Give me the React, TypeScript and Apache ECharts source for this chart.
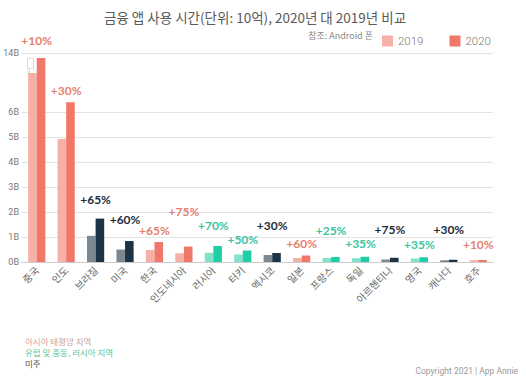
import React, { useEffect, useRef } from 'react';
import * as echarts from 'echarts';

const countries = ['중국', '인도', '브라질', '미국', '한국', '인도네시아', '러시아', '터키', '멕시코', '일본', '프랑스', '독일', '아르헨티나', '영국', '캐나다', '호주'];
const regions = ['apac', 'apac', 'am', 'am', 'apac', 'apac', 'eu', 'eu', 'am', 'apac', 'eu', 'eu', 'am', 'eu', 'am', 'apac'];
const hours2019 = [13.2, 4.93, 1.05, 0.5, 0.48, 0.35, 0.37, 0.3, 0.28, 0.16, 0.16, 0.15, 0.1, 0.14, 0.07, 0.07];
const hours2020 = [13.8, 6.4, 1.74, 0.84, 0.8, 0.62, 0.64, 0.46, 0.36, 0.26, 0.2, 0.21, 0.17, 0.19, 0.09, 0.08];
const growthLabels = ['+10%', '+30%', '+65%', '+60%', '+65%', '+75%', '+70%', '+50%', '+30%', '+60%', '+25%', '+35%', '+75%', '+35%', '+30%', '+10%'];
const regionNotes = ['아시아 태평양 지역', '유럽 및 중동, 러시아 지역', '미주'];

// label lift (px from bar top to label centre)
const labelLift = [17, 12, 19, 22, 12, 35, 21, 11, 28, 12, 27, 13, 28, 13, 30, 16];

const colors: Record<string, { c19: string; c20: string; label: string; note: string }> = {
  apac: { c19: '#F6B0A5', c20: '#F07869', label: '#E5806F', note: '#CFA29C' },
  eu: { c19: '#7FE2CA', c20: '#1ECFA6', label: '#3CC49D', note: '#5DBF9B' },
  am: { c19: '#7B8892', c20: '#1D3447', label: '#1F2D3A', note: '#555555' },
};

const BW = 8.6;
const KR = "'Noto Sans CJK KR', 'Noto Sans', sans-serif";

export default function App() {
  const ref = useRef<HTMLDivElement>(null);
  useEffect(() => {
    if (!ref.current) return;
    const chart = echarts.init(ref.current, null, { renderer: 'svg' });
    const option: any = {
      animation: false,
      backgroundColor: '#ffffff',
      title: {
        text: '금융 앱 사용 시간(단위: 10억), 2020년 대 2019년 비교',
        left: 99,
        top: 5,
        textStyle: { fontFamily: KR, fontSize: 13.5, fontWeight: 'normal', color: '#5a5a5a' },
      },
      legend: {
        data: ['2019', '2020'],
        right: 30,
        top: 30,
        icon: 'rect',
        itemWidth: 11,
        itemHeight: 11,
        itemGap: 26,
        textStyle: { fontFamily: 'Roboto, sans-serif', fontSize: 11.5, fontWeight: 300, color: '#777' },
      },
      grid: { left: 22, right: 33, top: 53, bottom: 115, containLabel: false },
      xAxis: {
        type: 'category',
        data: countries,
        axisLine: { lineStyle: { color: '#cccccc' } },
        axisTick: { show: false },
        axisLabel: {
          rotate: 45,
          interval: 0,
          fontFamily: KR,
          fontSize: 10,
          color: '#666',
          margin: 6,
        },
      },
      yAxis: {
        type: 'value',
        min: 0,
        max: 14,
        interval: 1,
        breaks: [{ start: 6.8, end: 13.1, gap: 0.676 }],
        breakArea: { show: false },
        breakLabelLayout: { moveOverlap: false },
        axisLine: { show: false },
        axisTick: { show: false },
        splitLine: { lineStyle: { color: '#e3e3e3' } },
        axisLabel: {
          fontFamily: 'Roboto, sans-serif',
          fontSize: 9,
          color: '#777',
          margin: 3,
          formatter: (v: number) => (Math.abs(v - Math.round(v)) < 1e-6 ? Math.round(v) + 'B' : ''),
        },
      },
      series: [
        {
          name: '2019',
          type: 'bar',
          barWidth: BW,
          barGap: '0%',
          itemStyle: { color: colors.apac.c19 },
          data: hours2019.map((v, i) => ({ value: v, itemStyle: { color: colors[regions[i]].c19 } })),
        },
        {
          name: '2020',
          type: 'bar',
          barWidth: BW,
          barGap: '0%',
          itemStyle: { color: colors.apac.c20 },
          data: hours2020.map((v, i) => ({
            value: v,
            itemStyle: { color: colors[regions[i]].c20 },
            label: {
              show: true,
              position: 'top',
              distance: labelLift[i] - 7,
              offset: [-BW / 2, 0],
              formatter: growthLabels[i],
              color: colors[regions[i]].label,
              fontFamily: 'Lato, sans-serif',
              fontWeight: 'bold',
              fontSize: 12,
              lineHeight: 14,
            },
          })),
        },
      ],
      graphic: [
        {
          type: 'text',
          right: 153,
          top: 31,
          style: { text: '참조: Android 폰', fontFamily: KR, fontSize: 9, fill: '#8a8a8a' },
        },
        {
          type: 'group',
          left: 25,
          top: 58,
          children: [
            { type: 'rect', shape: { x: 0, y: 0, width: 6, height: 10 }, style: { fill: '#fff', stroke: '#cfcfcf', lineWidth: 0.8 } },
            { type: 'text', x: 3, y: 5, style: { text: '≈', fontSize: 7, fill: '#bbb', align: 'center', verticalAlign: 'middle' }, rotation: Math.PI / 2, originX: 3, originY: 5 },
          ],
        },
        ...regionNotes.map((t, i) => ({
          type: 'text',
          left: 25,
          top: 337 + i * 10.7,
          style: { text: t, fontFamily: KR, fontSize: 8.5, fill: colors[['apac', 'eu', 'am'][i]].note },
        })),
        {
          type: 'text',
          right: 8,
          top: 366,
          style: { text: 'Copyright 2021 | App Annie', fontFamily: 'Roboto, sans-serif', fontSize: 8.5, fill: '#999' },
        },
      ],
    };
    chart.setOption(option);
    return () => chart.dispose();
  }, []);
  return <div ref={ref} style={{ width: 526, height: 377, position: 'absolute', left: 0, top: 0 }} />;
}
